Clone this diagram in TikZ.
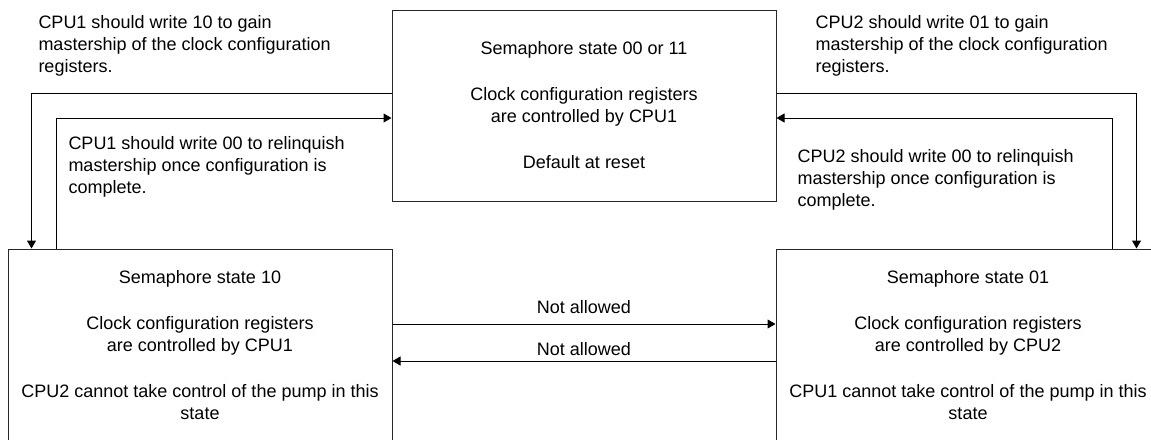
\documentclass[tikz,border=0pt]{standalone}
\usepackage{fontspec}
\setmainfont{Liberation Sans}
\usetikzlibrary{arrows.meta}

\begin{document}
\begin{tikzpicture}[x=1pt, y=-1pt,
    line width=1pt,
    statebox/.style={draw=black!85, rectangle, minimum width=384pt, minimum height=191pt,
        inner sep=0pt, align=center, font=\fontsize{18}{22}\selectfont},
    note/.style={anchor=base west, inner sep=0pt, align=left, font=\fontsize{18}{22}\selectfont},
    flow/.style={draw=black, -{Triangle[length=8pt, width=9pt]}},
    tag/.style={above=#1, inner sep=0pt, font=\fontsize{18}{22}\selectfont}]

\useasboundingbox (0,0) rectangle (1151,439);
\clip (0,0) rectangle (1151,439);

% the three states
\node[statebox] (state00) at (584,105.5) {Semaphore state 00 or 11\\[24pt]
    Clock configuration registers\\ are controlled by CPU1\\[24pt]
    Default at reset};
\node[statebox, minimum height=192pt] (state10) at (200,345) {Semaphore state 10\\[24pt]
    Clock configuration registers\\ are controlled by CPU1\\[24pt]
    CPU2 cannot take control of the pump in this\\ state};
\node[statebox, minimum height=192pt] (state01) at (968,345) {Semaphore state 01\\[24pt]
    Clock configuration registers\\ are controlled by CPU2\\[24pt]
    CPU1 cannot take control of the pump in this\\ state};

% CPU1 side (notes sit on the baseline of their last line)
\draw[flow] ([yshift=12.5pt]state00.west) -| ([xshift=24pt]state10.north west);
\draw[flow] ([xshift=49pt]state10.north west) |- ([yshift=-12.5pt]state00.west);
\node[note] (gain1) at (38,72) {CPU1 should write 10 to gain\\ mastership of the clock configuration\\ registers.};
\node[note] (free1) at (68,193.5) {CPU1 should write 00 to relinquish\\ mastership once configuration is\\ complete.};

% CPU2 side
\draw[flow] ([yshift=12.5pt]state00.east) -| ([xshift=-24pt]state01.north east);
\draw[flow] ([xshift=-48pt]state01.north east) |- ([yshift=-12.5pt]state00.east);
\node[note] (gain2) at (815,72) {CPU2 should write 01 to gain\\ mastership of the clock configuration\\ registers.};
\node[note] (free2) at (797,206.5) {CPU2 should write 00 to relinquish\\ mastership once configuration is\\ complete.};

% direct switches
\draw[flow] ([yshift=21pt]state10.east) -- node[tag=10pt] {Not allowed} ([yshift=21pt]state01.west);
\draw[flow] ([yshift=-16pt]state01.west) -- node[tag=5pt] {Not allowed} ([yshift=-16pt]state10.east);

\end{tikzpicture}
\end{document}
